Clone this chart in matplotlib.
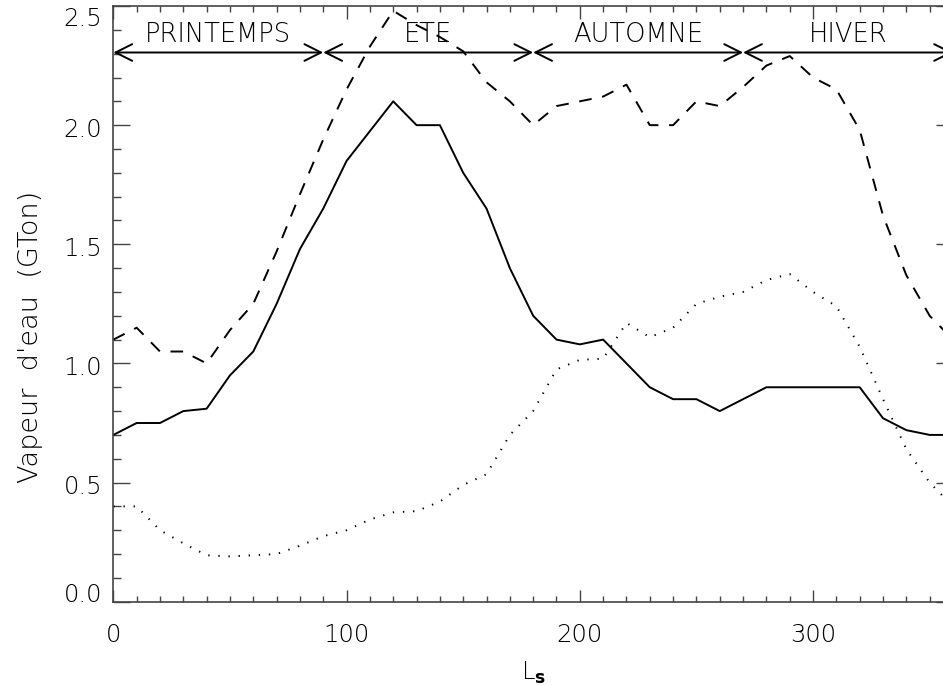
import matplotlib
matplotlib.use("Agg")
import matplotlib.pyplot as plt
from matplotlib.ticker import MultipleLocator
from matplotlib.transforms import ScaledTranslation

# Ls (deg) sampled every 10 degrees
ls = [0, 10, 20, 30, 40, 50, 60, 70, 80, 90, 100, 110, 120, 130, 140, 150, 160, 170, 180,
      190, 200, 210, 220, 230, 240, 250, 260, 270, 280, 290, 300, 310, 320, 330, 340, 350, 360]

vap_solid = [0.70, 0.75, 0.75, 0.80, 0.81, 0.95, 1.05, 1.25, 1.48, 1.65, 1.85, 1.975, 2.10, 2.00,
             2.00, 1.80, 1.65, 1.40, 1.20, 1.10, 1.08, 1.10, 1.00, 0.90, 0.85, 0.85, 0.80, 0.85,
             0.90, 0.90, 0.90, 0.90, 0.90, 0.77, 0.72, 0.70, 0.70]

vap_dash = [1.10, 1.15, 1.05, 1.05, 1.00, 1.14, 1.25, 1.47, 1.71, 1.94, 2.15, 2.33, 2.48, 2.42,
            2.37, 2.31, 2.18, 2.10, 2.00, 2.08, 2.10, 2.12, 2.17, 2.00, 2.00, 2.10, 2.08, 2.16,
            2.25, 2.29, 2.20, 2.15, 1.98, 1.62, 1.37, 1.20, 1.10]

vap_dot = [0.40, 0.40, 0.30, 0.245, 0.195, 0.19, 0.195, 0.20, 0.235, 0.275, 0.30, 0.345, 0.375,
           0.38, 0.42, 0.49, 0.535, 0.70, 0.80, 0.975, 1.015, 1.02, 1.17, 1.11, 1.15, 1.25, 1.28,
           1.30, 1.35, 1.375, 1.30, 1.24, 1.07, 0.85, 0.64, 0.50, 0.40]

season_edges = [0, 90, 180, 270, 360]
season_names = ["PRINTEMPS", "ETE", "AUTOMNE", "HIVER"]
season_arrow_y = 2.305
season_text_y = 2.35

xticks = [0, 100, 200, 300]
yticks = [0.0, 0.5, 1.0, 1.5, 2.0, 2.5]

plt.rcParams['font.family'] = ['DejaVu Sans']
plt.rcParams['font.weight'] = 'light'
fs = 17.5

fig = plt.figure(figsize=(9.43, 6.85), dpi=100)
ax = fig.add_axes([0.1202, 0.1216, 0.8904, 0.8696])

lw = 1.4
ax.plot(ls, vap_solid, color="black", linewidth=lw)
ax.plot(ls, vap_dash, color="black", linewidth=lw, dashes=(6.5, 5.5))
ax.plot(ls, vap_dot, color="black", linewidth=lw, dashes=(0.7, 4.5))

for i, name in enumerate(season_names):
    x0, x1 = season_edges[i], season_edges[i + 1]
    ax.annotate("", xy=(x1, season_arrow_y), xytext=(x0, season_arrow_y),
                arrowprops=dict(arrowstyle="<->,head_length=0.6,head_width=0.3",
                                lw=lw, color="black", shrinkA=0, shrinkB=0,
                                mutation_scale=20))
    ax.text((x0 + x1) / 2, season_text_y, name, ha="center", va="baseline",
            fontsize=18.5, color="black", fontweight="light")

ax.set_xlim(0, 360)
ax.set_ylim(0, 2.5)
ax.set_xticks(xticks)
ax.xaxis.set_minor_locator(MultipleLocator(10))
ax.set_yticks(yticks, ["%.1f" % v for v in yticks])
ax.yaxis.set_minor_locator(MultipleLocator(0.1))

ax.tick_params(which="both", direction="in", top=True, right=True, color="#444444",
               width=1.0, labelsize=fs)
ax.tick_params(axis="x", which="major", length=9, pad=15)
ax.tick_params(axis="x", which="minor", length=4)
ax.tick_params(axis="y", which="major", length=12.5, pad=8)
ax.tick_params(axis="y", which="minor", length=6)
for sp in ax.spines.values():
    sp.set_color("#444444")
    sp.set_linewidth(1.2)

# y tick labels: end labels pulled inward, the others sit a touch low
fig.canvas.draw()
for lab in ax.get_yticklabels():
    v = float(lab.get_text())
    if v == yticks[0]:
        dy = 9
    elif v == yticks[-1]:
        dy = -10
    else:
        dy = -2
    lab.set_transform(lab.get_transform() + ScaledTranslation(0, dy / 100, fig.dpi_scale_trans))

ax.set_xlabel(r"L$_\mathbf{s}$", fontsize=fs, fontweight="light")
ax.xaxis.set_label_coords(0.5, -0.098)
ax.set_ylabel("Vapeur  d'eau  (GTon)", fontsize=19.5, fontweight="light")
ax.yaxis.set_label_coords(-0.084, 0.444)

fig.savefig("out.png", dpi=100)
